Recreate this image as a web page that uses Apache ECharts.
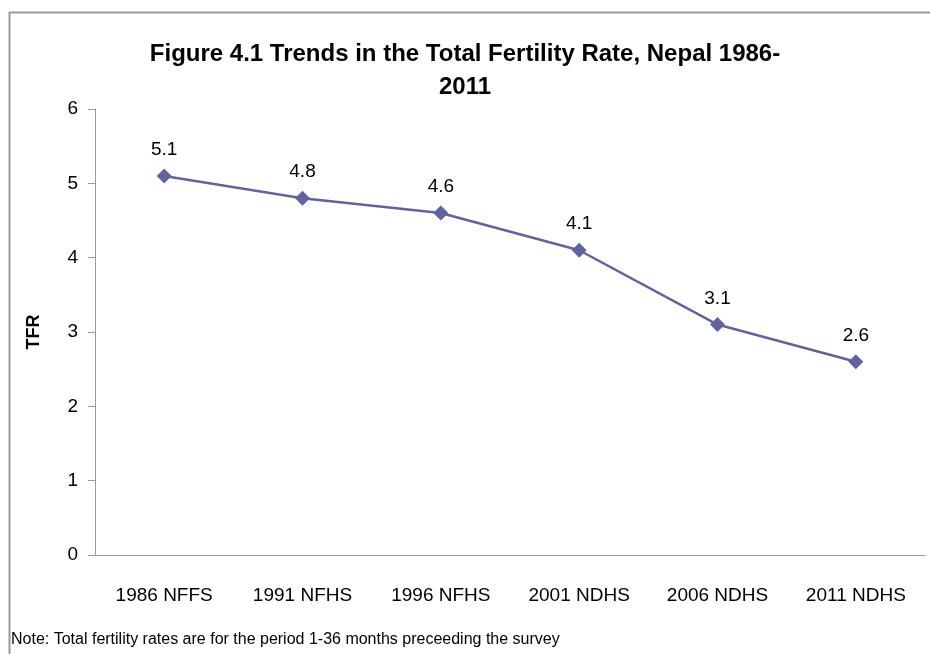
<!DOCTYPE html>
<html><head><meta charset="utf-8">
<script src="https://cdn.jsdelivr.net/npm/echarts@6/dist/echarts.min.js"></script>
<style>html,body{margin:0;padding:0;background:#fff}#c{width:930px;height:654px}</style>
</head><body><div id="c"></div>
<script>
const categories = ['1986 NFFS','1991 NFHS','1996 NFHS','2001 NDHS','2006 NDHS','2011 NDHS'];
const tfrValues = [5.1, 4.8, 4.6, 4.1, 3.1, 2.6];
const titleText = 'Figure 4.1 Trends in the Total Fertility Rate, Nepal 1986-\n2011';
const noteText = 'Note: Total fertility rates are for the period 1-36 months preceeding the survey';
const FONT = '"Liberation Sans Narrow", "Liberation Sans", sans-serif';

const chart = echarts.init(document.getElementById('c'), null, {renderer:'canvas'});
chart.setOption({
  animation:false,
  backgroundColor:'#fff',
  graphic:[
    {type:'line', shape:{x1:9,y1:12.5,x2:930,y2:12.5}, style:{stroke:'#999',lineWidth:2}},
    {type:'line', shape:{x1:9.5,y1:12,x2:9.5,y2:654}, style:{stroke:'#999',lineWidth:2}},
    {type:'text', left:11, top:632, style:{text:noteText, font:'16px '+FONT, fill:'#000'}}
  ],
  title:{
    text:titleText, left:'center', top:33,
    textStyle:{fontFamily:FONT, fontSize:24, fontWeight:'bold', color:'#000', lineHeight:33}
  },
  grid:{left:95, right:5, top:109, bottom:99},
  xAxis:{
    type:'category', data:categories, boundaryGap:true,
    axisLine:{lineStyle:{color:'#999',width:1}},
    axisTick:{show:false},
    axisLabel:{fontFamily:FONT, fontSize:19, color:'#000', margin:31}
  },
  yAxis:{
    type:'value', min:0, max:6, interval:1,
    name:'TFR', nameLocation:'middle', nameGap:52, nameRotate:90,
    nameTextStyle:{fontFamily:FONT, fontSize:18, fontWeight:'bold', color:'#000'},
    axisLine:{show:true, lineStyle:{color:'#999',width:1}},
    axisTick:{show:true, inside:false, length:7, lineStyle:{color:'#999'}},
    splitLine:{show:false},
    axisLabel:{fontFamily:FONT, fontSize:19, color:'#000', margin:17}
  },
  series:[{
    type:'line', data:tfrValues,
    symbol:'diamond', symbolSize:15,
    lineStyle:{color:'#63639c', width:2.5},
    itemStyle:{color:'#63639c'},
    label:{show:true, position:'top', distance:9, fontFamily:FONT, fontSize:19, color:'#000',
      formatter:p=>p.value.toFixed(1)}
  }]
});
</script></body></html>
